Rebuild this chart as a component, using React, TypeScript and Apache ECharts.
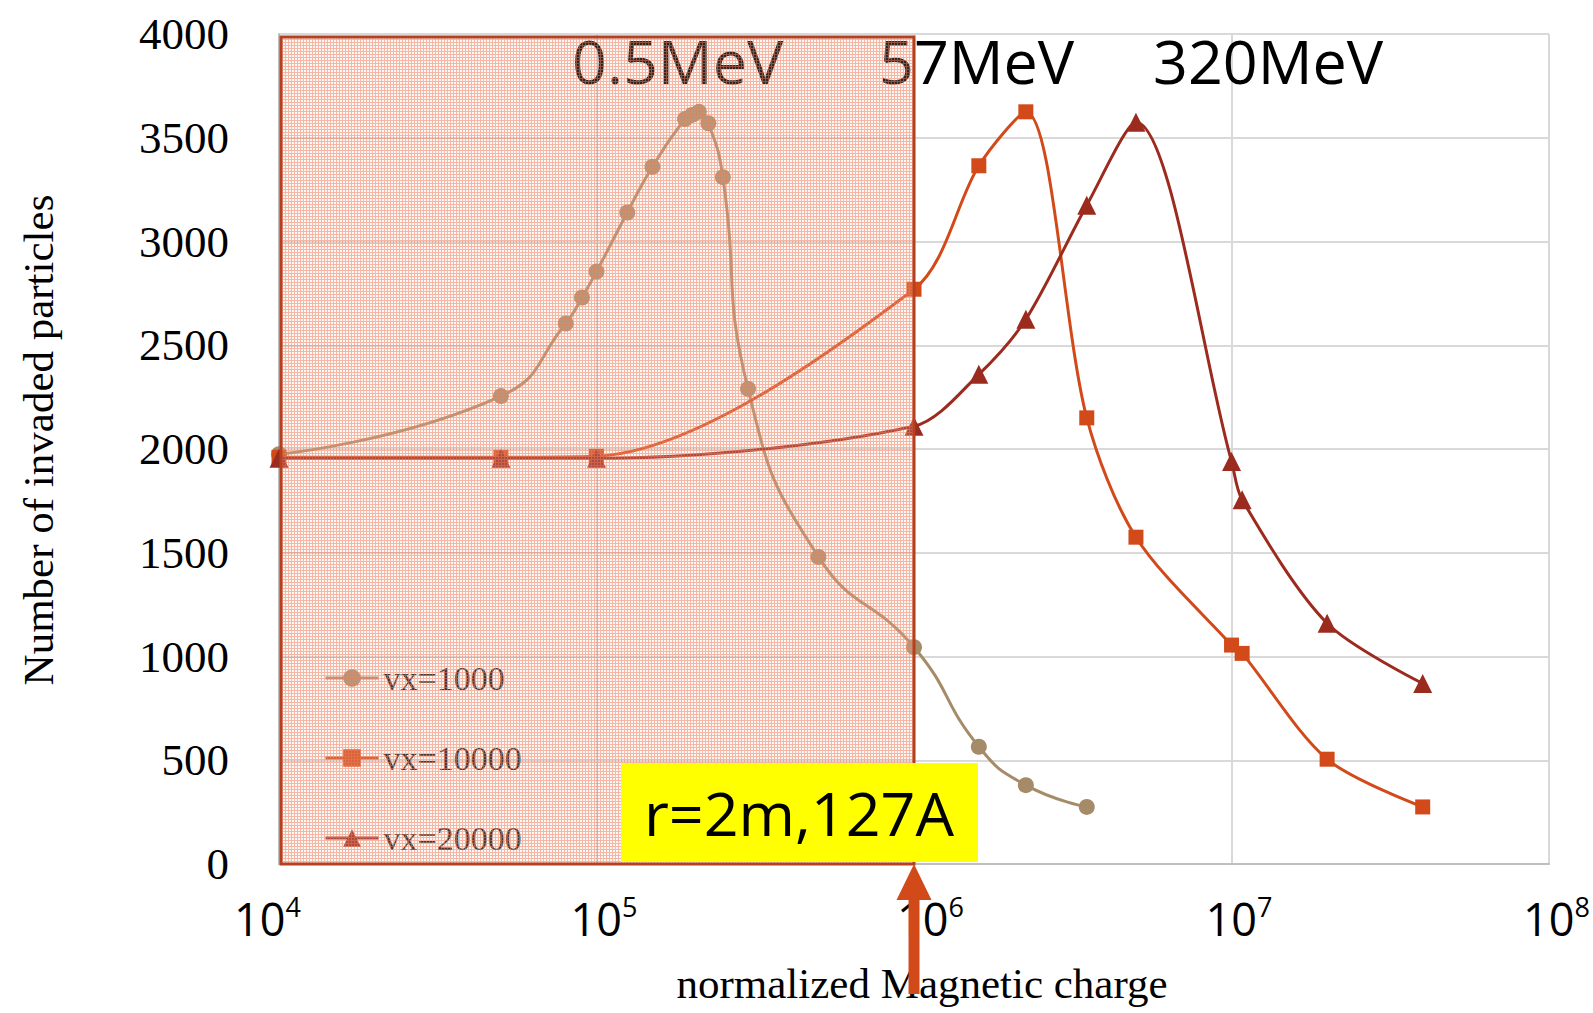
import React, { useEffect, useRef } from 'react';
import * as echarts from 'echarts';

// ---- data ----
const SERIES_NAMES = ['vx=1000', 'vx=10000', 'vx=20000'];

const X_VX1000 = [1e4, 5e4, 8e4, 9e4, 1e5, 1.25e5, 1.5e5, 1.9e5, 2.0e5, 2.1e5, 2.25e5, 2.5e5, 3e5, 5e5, 1e6, 1.6e6, 2.25e6, 3.5e6];
const Y_VX1000 = [1975, 2255, 2605, 2730, 2855, 3140, 3360, 3590, 3610, 3625, 3570, 3310, 2290, 1480, 1045, 565, 380, 275];

const X_VX10000 = [1e4, 5e4, 1e5, 1e6, 1.6e6, 2.25e6, 3.5e6, 5e6, 1e7, 1.08e7, 2e7, 4e7];
const Y_VX10000 = [1960, 1960, 1965, 2770, 3365, 3625, 2150, 1575, 1055, 1015, 505, 275];

const X_VX20000 = [1e4, 5e4, 1e5, 1e6, 1.6e6, 2.25e6, 3.5e6, 5e6, 1e7, 1.08e7, 2e7, 4e7];
const Y_VX20000 = [1955, 1955, 1955, 2110, 2360, 2625, 3175, 3575, 1940, 1755, 1160, 870];

const Y_MIN = 0;
const Y_MAX = 4000;
const Y_INTERVAL = 500;
const X_MIN = 1e4;
const X_MAX = 1e8;

const ENERGY_LABELS = ['0.5MeV', '57MeV', '320MeV'];
const NOTE_TEXT = 'r=2m,127A';
const SHADED_RANGE = [1e4, 1e6];
const X_TITLE = 'normalized Magnetic charge';
const Y_TITLE = 'Number of invaded particles';

// ---- styles ----
const COLORS = ['#A68B68', '#D24A1A', '#9C2B1F'];
const SYMBOLS = ['circle', 'rect', 'triangle'];
const SYMBOL_SIZES = [16, 15, 19];
const SMOOTH = [0.5, 0.3, 0.3];
const SERIF = 'Liberation Serif';
const SANS = 'Open Sans';
const ENERGY_POS = [[572, 60], [879, 60], [1153, 60]];
// per-exponent spacer widths (left, right) so the "10" sits like in the reference
const LABEL_PAD: Record<number, [number, number]> = { 4: [0, 23], 6: [33, 0] };

function makePattern(): any {
  const c = document.createElement('canvas');
  c.width = 3;
  c.height = 3;
  const g = c.getContext('2d');
  if (!g) return null;
  g.clearRect(0, 0, 3, 3);
  g.fillStyle = 'rgba(250,215,200,0.18)';
  g.fillRect(1, 1, 2, 2);
  g.fillStyle = 'rgba(238,135,105,0.6)';
  g.fillRect(0, 0, 3, 1);
  g.fillRect(0, 1, 1, 2);
  return { image: c, repeat: 'repeat', imageWidth: 3, imageHeight: 3 };
}

export default function App() {
  const ref = useRef<HTMLDivElement>(null);

  useEffect(() => {
    document.body.style.margin = '0';
    const el = ref.current;
    if (!el) return;
    const chart = echarts.init(el, null, { renderer: 'svg' });

    const xs = [X_VX1000, X_VX10000, X_VX20000];
    const ys = [Y_VX1000, Y_VX10000, Y_VX20000];

    const series = SERIES_NAMES.map((name, i) => ({
      name,
      type: 'line',
      data: xs[i].map((x, j) => [x, ys[i][j]]),
      smooth: SMOOTH[i],
      symbol: SYMBOLS[i],
      symbolSize: SYMBOL_SIZES[i],
      showSymbol: true,
      lineStyle: { color: COLORS[i], width: 3 },
      itemStyle: { color: COLORS[i] },
      z: 2 + i,
    }));

    const richPads: any = {};
    Object.keys(LABEL_PAD).forEach((k) => {
      richPads['l' + k] = { width: LABEL_PAD[+k][0] };
      richPads['r' + k] = { width: LABEL_PAD[+k][1] };
    });

    const option: any = {
      animation: false,
      backgroundColor: '#ffffff',
      grid: { left: 279, top: 34, width: 1272, height: 830, containLabel: false },
      legend: {
        orient: 'vertical',
        left: 319,
        top: 656,
        itemWidth: 53,
        itemHeight: 22,
        itemGap: 46,
        data: SERIES_NAMES,
        lineStyle: { width: 3 },
        textStyle: { fontFamily: SERIF, fontSize: 34, color: '#1a1a1a', lineHeight: 33 },
      },
      xAxis: {
        type: 'log',
        logBase: 10,
        min: X_MIN,
        max: X_MAX,
        name: X_TITLE,
        nameLocation: 'middle',
        nameGap: 98,
        nameTextStyle: { fontFamily: SERIF, fontSize: 43, color: '#000', padding: [0, 0, 0, 16] },
        axisLine: { show: true, lineStyle: { color: '#BFBFBF', width: 2 } },
        axisTick: { show: false },
        splitLine: { show: true, lineStyle: { color: '#D9D9D9', width: 2 } },
        minorTick: { show: false },
        axisLabel: {
          margin: 29,
          showMinLabel: true,
          showMaxLabel: true,
          formatter: (v: number) => {
            const e = Math.round(Math.log10(v));
            if (LABEL_PAD[e]) {
              const [l, r] = LABEL_PAD[e];
              return `${l ? `{l${e}|}` : ''}{b|10}{s|${e}}${r ? `{r${e}|}` : ''}`;
            }
            return `{sp|}{b|10}{s|${e}}`;
          },
          rich: {
            sp: { width: 15 },
            ...richPads,
            b: { fontFamily: SANS, fontSize: 45, lineHeight: 50, color: '#000' },
            s: { fontFamily: SANS, fontSize: 27, lineHeight: 38, verticalAlign: 'top', color: '#000' },
          },
        },
      },
      yAxis: {
        type: 'value',
        min: Y_MIN,
        max: Y_MAX,
        interval: Y_INTERVAL,
        name: Y_TITLE,
        nameLocation: 'middle',
        nameRotate: 90,
        nameGap: 219,
        nameTextStyle: { fontFamily: SERIF, fontSize: 43, color: '#000', padding: [0, 0, 0, 18] },
        axisLine: { show: true, lineStyle: { color: '#BFBFBF', width: 2 } },
        axisTick: { show: false },
        splitLine: { show: true, lineStyle: { color: '#D9D9D9', width: 2 } },
        axisLabel: {
          margin: 50,
          fontFamily: SERIF,
          fontSize: 45,
          color: '#000',
          padding: [0, 0, 8, 0],
          formatter: (v: number) => String(v),
        },
      },
      series,
    };

    chart.setOption(option);

    const px = (x: number, y: number) => chart.convertToPixel({ gridIndex: 0 }, [x, y]) as number[];
    const [xL, yT] = px(SHADED_RANGE[0], 3985);
    const [xR, yB] = px(SHADED_RANGE[1], 0);
    const [ax, ay] = px(SHADED_RANGE[1], 0);

    const buildGraphics = (fill: any) => [
      ...ENERGY_LABELS.map((t, i) => ({
        type: 'text',
        z: 50,
        x: ENERGY_POS[i][0],
        y: ENERGY_POS[i][1],
        silent: true,
        style: { text: t, fontFamily: SANS, fontSize: 61, fill: '#000', align: 'left', verticalAlign: 'middle' },
      })),
      {
        type: 'rect',
        z: 100,
        silent: true,
        shape: { x: xL + 2, y: yT, width: xR - xL - 2, height: yB - yT },
        style: { fill, stroke: '#B5401F', lineWidth: 3 },
      },
      {
        type: 'rect',
        z: 110,
        silent: true,
        shape: { x: 621, y: 763, width: 357, height: 99 },
        style: { fill: '#FFFF00' },
      },
      {
        type: 'text',
        z: 111,
        silent: true,
        x: 799,
        y: 812,
        style: { text: NOTE_TEXT, fontFamily: SANS, fontSize: 61, fill: '#000', align: 'center', verticalAlign: 'middle' },
      },
      {
        type: 'polygon',
        z: 120,
        silent: true,
        shape: {
          points: [
            [ax, ay],
            [ax + 17.5, ay + 36],
            [ax + 5.5, ay + 36],
            [ax + 5.5, 994],
            [ax - 5.5, 994],
            [ax - 5.5, ay + 36],
            [ax - 17.5, ay + 36],
          ],
        },
        style: { fill: '#D24A1A' },
      },
    ];

    let ok = false;
    try {
      const pat = makePattern();
      if (pat) {
        chart.setOption({ graphic: buildGraphics(pat) });
        ok = true;
      }
    } catch (e) {
      ok = false;
    }
    if (!ok) {
      chart.setOption({ graphic: buildGraphics('rgba(238,125,95,0.38)') }, { replaceMerge: ['graphic'] } as any);
    }

    return () => chart.dispose();
  }, []);

  return <div ref={ref} style={{ width: 1593, height: 1013 }} />;
}
